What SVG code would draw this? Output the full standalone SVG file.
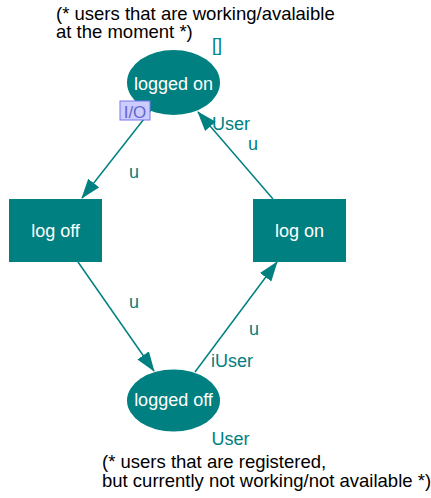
<svg xmlns="http://www.w3.org/2000/svg" width="431" height="498" viewBox="0 0 431 498">
  <style>
    .state { fill: #008080; }
    .name { font-family: "Liberation Sans", Arial, sans-serif; font-size: 18px; fill: #ffffff; text-anchor: middle; }
    .lbl { font-family: "Liberation Sans", Arial, sans-serif; font-size: 18px; fill: #008080; }
    .note { font-family: "Liberation Sans", Arial, sans-serif; font-size: 18.5px; fill: #000000; }
    .edge { stroke: #008080; stroke-width: 1.5; fill: none; marker-end: url(#head); }
  </style>
  <defs>
    <marker id="head" markerUnits="userSpaceOnUse" markerWidth="20" markerHeight="16" refX="19" refY="7" orient="auto">
      <path d="M0,0 L20,7 L0,14 z" fill="#008080"/>
    </marker>
  </defs>

  <!-- comments -->
  <text class="note" x="56" y="19.5">(* users that are working/avalaible</text>
  <text class="note" x="56" y="37.5">at the moment *)</text>
  <text class="note" x="102" y="468">(* users that are registered,</text>
  <text class="note" x="102" y="486.5">but currently not working/not available *)</text>

  <!-- transitions -->
  <g id="connectors">
    <line class="edge" x1="151" y1="110" x2="82" y2="198"/>
    <line class="edge" x1="273" y1="199" x2="198" y2="112"/>
    <line class="edge" x1="78" y1="262" x2="154" y2="371"/>
    <line class="edge" x1="195" y1="372" x2="277" y2="262"/>
    <text class="lbl" x="129" y="178">u</text>
    <text class="lbl" x="248" y="150">u</text>
    <text class="lbl" x="129" y="308">u</text>
    <text class="lbl" x="249" y="335">u</text>
  </g>

  <g id="logged-on">
    <ellipse class="state" cx="173.5" cy="82.5" rx="46.5" ry="32.5"/>
    <text class="name" x="173.5" y="90">logged on</text>
    <text class="lbl" x="212" y="51">[]</text>
    <text class="lbl" x="212" y="130">User</text>
    <rect x="120" y="101" width="30" height="19" fill="#ccccff" stroke="#7777ee" stroke-width="1"/>
    <text x="135" y="117.5" font-family="Liberation Sans, Arial, sans-serif" font-size="17" fill="#6666cc" text-anchor="middle">I/O</text>
  </g>

  <g id="log-off">
    <rect class="state" x="9" y="199" width="93" height="63"/>
    <text class="name" x="55.5" y="237">log off</text>
  </g>

  <g id="log-on">
    <rect class="state" x="253" y="199" width="93" height="63"/>
    <text class="name" x="299.5" y="237">log on</text>
  </g>

  <g id="logged-off">
    <ellipse class="state" cx="173.5" cy="400.5" rx="46.5" ry="31"/>
    <text class="name" x="173.5" y="406">logged off</text>
    <text class="lbl" x="211" y="367">iUser</text>
    <text class="lbl" x="211.5" y="445">User</text>
  </g>
</svg>
